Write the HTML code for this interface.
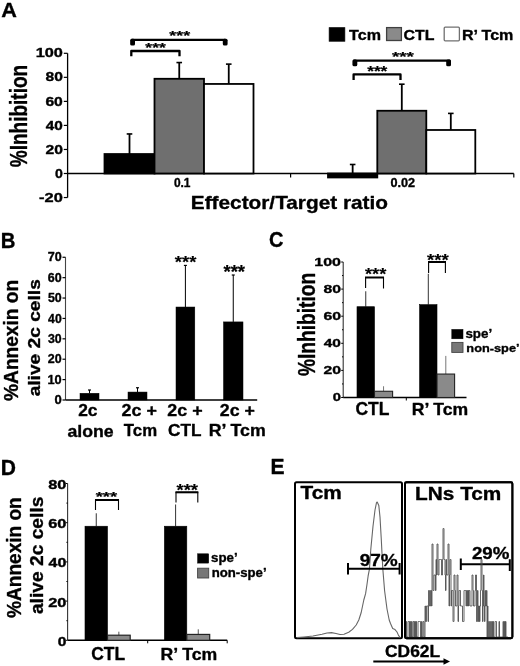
<!DOCTYPE html>
<html><head><meta charset="utf-8"><style>
html,body{margin:0;padding:0;background:#fff;width:520px;height:666px;overflow:hidden}
svg{display:block;will-change:transform} text{stroke:#000;stroke-width:0.35px;stroke-linejoin:round}
</style></head><body>
<svg width="520" height="666" viewBox="0 0 520 666" font-family="Liberation Sans" font-weight="bold" stroke-width="0" >
<rect width="520" height="666" fill="#fff"/>
<text x="1.16" y="16.80" font-size="21.09" textLength="15.63" lengthAdjust="spacingAndGlyphs">A</text>
<line x1="67.6" y1="53.30000000000001" x2="67.6" y2="197.54" stroke="#000" stroke-width="1.3"/>
<line x1="63.8" y1="53.30000000000001" x2="67.6" y2="53.30000000000001" stroke="#000" stroke-width="1.2"/>
<text x="35.68" y="57.42" font-size="12.58" textLength="27.19" lengthAdjust="spacingAndGlyphs">100</text>
<line x1="63.8" y1="77.34" x2="67.6" y2="77.34" stroke="#000" stroke-width="1.2"/>
<text x="45.49" y="81.46" font-size="12.58" textLength="17.37" lengthAdjust="spacingAndGlyphs">80</text>
<line x1="63.8" y1="101.38" x2="67.6" y2="101.38" stroke="#000" stroke-width="1.2"/>
<text x="45.41" y="105.50" font-size="12.58" textLength="17.45" lengthAdjust="spacingAndGlyphs">60</text>
<line x1="63.8" y1="125.42" x2="67.6" y2="125.42" stroke="#000" stroke-width="1.2"/>
<text x="45.77" y="129.54" font-size="12.58" textLength="17.08" lengthAdjust="spacingAndGlyphs">40</text>
<line x1="63.8" y1="149.46" x2="67.6" y2="149.46" stroke="#000" stroke-width="1.2"/>
<text x="45.45" y="153.58" font-size="12.58" textLength="17.41" lengthAdjust="spacingAndGlyphs">20</text>
<line x1="63.8" y1="173.5" x2="67.6" y2="173.5" stroke="#000" stroke-width="1.2"/>
<text x="54.94" y="177.62" font-size="12.58" textLength="7.84" lengthAdjust="spacingAndGlyphs">0</text>
<line x1="63.8" y1="197.54" x2="67.6" y2="197.54" stroke="#000" stroke-width="1.2"/>
<text x="39.14" y="201.66" font-size="12.58" textLength="23.72" lengthAdjust="spacingAndGlyphs">-20</text>
<text transform="translate(27.06,167.28) rotate(-90)" font-size="23.67" textLength="102.52" lengthAdjust="spacingAndGlyphs">%Inhibition</text>
<line x1="67.6" y1="173.5" x2="513.8" y2="173.5" stroke="#000" stroke-width="1.6"/>
<line x1="290.6" y1="173.5" x2="290.6" y2="177.5" stroke="#000" stroke-width="1.2"/>
<line x1="513.8" y1="173.5" x2="513.8" y2="177.5" stroke="#000" stroke-width="1.2"/>
<line x1="129.5" y1="154.0276" x2="129.5" y2="133.95420000000001" stroke="#000" stroke-width="1.8"/>
<line x1="126.7" y1="133.95420000000001" x2="132.3" y2="133.95420000000001" stroke="#000" stroke-width="1.6"/>
<rect x="104.5" y="154.0276" width="50.00" height="19.47" fill="#000" stroke="#000" stroke-width="1.8"/>
<line x1="179.25" y1="78.78240000000001" x2="179.25" y2="62.555400000000006" stroke="#000" stroke-width="1.8"/>
<line x1="176.45" y1="62.555400000000006" x2="182.05" y2="62.555400000000006" stroke="#000" stroke-width="1.6"/>
<rect x="154.5" y="78.78240000000001" width="49.50" height="94.72" fill="#6f6f6f" stroke="#000" stroke-width="1.8"/>
<line x1="228.75" y1="83.95100000000001" x2="228.75" y2="64.11800000000001" stroke="#000" stroke-width="1.8"/>
<line x1="225.95" y1="64.11800000000001" x2="231.55" y2="64.11800000000001" stroke="#000" stroke-width="1.6"/>
<rect x="204" y="83.95100000000001" width="49.50" height="89.55" fill="#fff" stroke="#000" stroke-width="1.8"/>
<line x1="352.65" y1="173.5" x2="352.65" y2="164.485" stroke="#000" stroke-width="1.8"/>
<line x1="349.84999999999997" y1="164.485" x2="355.45" y2="164.485" stroke="#000" stroke-width="1.6"/>
<rect x="328" y="173.5" width="49.30" height="3.97" fill="#000" stroke="#000" stroke-width="1.8"/>
<line x1="401.8" y1="110.7556" x2="401.8" y2="84.1914" stroke="#000" stroke-width="1.8"/>
<line x1="399.0" y1="84.1914" x2="404.6" y2="84.1914" stroke="#000" stroke-width="1.6"/>
<rect x="377.3" y="110.7556" width="49.00" height="62.74" fill="#6f6f6f" stroke="#000" stroke-width="1.8"/>
<line x1="450.8" y1="129.9876" x2="450.8" y2="113.4" stroke="#000" stroke-width="1.8"/>
<line x1="448.0" y1="113.4" x2="453.6" y2="113.4" stroke="#000" stroke-width="1.6"/>
<rect x="426.3" y="129.9876" width="49.00" height="43.51" fill="#fff" stroke="#000" stroke-width="1.8"/>
<path d="M131.3,56.3 V51 H179.5 V56.3" fill="none" stroke="#000" stroke-width="2.3" stroke-linejoin="round"/>
<path d="M132,45 V39.8 H225 V45" fill="none" stroke="#000" stroke-width="2.3" stroke-linejoin="round"/>
<rect x="130.2" y="38.7" width="4.8" height="6.9" rx="1.6" fill="#000"/>
<rect x="222.8" y="38.7" width="4.8" height="6.9" rx="1.6" fill="#000"/>
<path d="M353.6,80 V74.4 H400.5 V80" fill="none" stroke="#000" stroke-width="2.3" stroke-linejoin="round"/>
<path d="M354,65 V60.6 H449.5 V65" fill="none" stroke="#000" stroke-width="2.3" stroke-linejoin="round"/>
<rect x="352.5" y="59.4" width="4.8" height="6.9" rx="1.6" fill="#000"/>
<rect x="446.2" y="59.4" width="4.8" height="6.9" rx="1.6" fill="#000"/>
<text x="145.36" y="51.87" font-size="12.62" textLength="20.49" lengthAdjust="spacingAndGlyphs" style="stroke-width:0.2px">***</text>
<text x="169.36" y="40.16" font-size="12.89" textLength="20.79" lengthAdjust="spacingAndGlyphs" style="stroke-width:0.2px">***</text>
<text x="367.16" y="75.80" font-size="13.96" textLength="20.19" lengthAdjust="spacingAndGlyphs" style="stroke-width:0.2px">***</text>
<text x="391.95" y="61.44" font-size="13.15" textLength="21.89" lengthAdjust="spacingAndGlyphs" style="stroke-width:0.2px">***</text>
<rect x="329.2" y="27.7" width="15.60" height="13.50" fill="#000" stroke="#000" stroke-width="0.8"/>
<text x="349.14" y="40.05" font-size="15.20" textLength="31.86" lengthAdjust="spacingAndGlyphs">Tcm</text>
<rect x="386.6" y="27.6" width="14.80" height="12.90" fill="#8a8a8a" stroke="#404040" stroke-width="1.3"/>
<text x="403.46" y="40.05" font-size="14.98" textLength="30.94" lengthAdjust="spacingAndGlyphs">CTL</text>
<rect x="444.2" y="27.2" width="15.2" height="13.6" rx="1" fill="#fff" stroke="#707070" stroke-width="1.3"/>
<text x="461.92" y="40.05" font-size="15.20" textLength="51.48" lengthAdjust="spacingAndGlyphs">R&#8217; Tcm</text>
<text x="173.92" y="187.38" font-size="11.87" textLength="16.61" lengthAdjust="spacingAndGlyphs">0.1</text>
<text x="390.49" y="186.68" font-size="12.16" textLength="24.63" lengthAdjust="spacingAndGlyphs">0.02</text>
<text x="190.80" y="209.04" font-size="19.09" textLength="197.20" lengthAdjust="spacingAndGlyphs">Effector/Target ratio</text>
<text x="0.63" y="247.60" font-size="21.53" textLength="14.68" lengthAdjust="spacingAndGlyphs">B</text>
<line x1="65.5" y1="257.27" x2="65.5" y2="400.0" stroke="#444" stroke-width="1.1"/>
<line x1="65.5" y1="400.0" x2="257.2" y2="400.0" stroke="#000" stroke-width="1.5"/>
<line x1="62.5" y1="400.0" x2="65.5" y2="400.0" stroke="#000" stroke-width="1.2"/>
<text x="54.48" y="404.08" font-size="12.44" textLength="7.26" lengthAdjust="spacingAndGlyphs">0</text>
<line x1="62.5" y1="379.61" x2="65.5" y2="379.61" stroke="#000" stroke-width="1.2"/>
<text x="47.50" y="383.69" font-size="12.44" textLength="14.24" lengthAdjust="spacingAndGlyphs">10</text>
<line x1="62.5" y1="359.22" x2="65.5" y2="359.22" stroke="#000" stroke-width="1.2"/>
<text x="47.86" y="363.30" font-size="12.44" textLength="13.86" lengthAdjust="spacingAndGlyphs">20</text>
<line x1="62.5" y1="338.83" x2="65.5" y2="338.83" stroke="#000" stroke-width="1.2"/>
<text x="48.02" y="342.88" font-size="12.39" textLength="13.70" lengthAdjust="spacingAndGlyphs">30</text>
<line x1="62.5" y1="318.44" x2="65.5" y2="318.44" stroke="#000" stroke-width="1.2"/>
<text x="48.12" y="322.52" font-size="12.44" textLength="13.60" lengthAdjust="spacingAndGlyphs">40</text>
<line x1="62.5" y1="298.05" x2="65.5" y2="298.05" stroke="#000" stroke-width="1.2"/>
<text x="47.93" y="302.13" font-size="12.44" textLength="13.80" lengthAdjust="spacingAndGlyphs">50</text>
<line x1="62.5" y1="277.65999999999997" x2="65.5" y2="277.65999999999997" stroke="#000" stroke-width="1.2"/>
<text x="47.83" y="281.74" font-size="12.44" textLength="13.90" lengthAdjust="spacingAndGlyphs">60</text>
<line x1="62.5" y1="257.27" x2="65.5" y2="257.27" stroke="#000" stroke-width="1.2"/>
<text x="47.77" y="261.35" font-size="12.44" textLength="13.97" lengthAdjust="spacingAndGlyphs">70</text>
<line x1="89.5" y1="393.2713" x2="89.5" y2="390.0089" stroke="#000" stroke-width="1.0"/>
<line x1="88.0" y1="390.0089" x2="91.0" y2="390.0089" stroke="#000" stroke-width="1.2"/>
<rect x="80" y="393.2713" width="19.00" height="6.73" fill="#000" stroke="#000" stroke-width="0.5"/>
<line x1="137.5" y1="392.0479" x2="137.5" y2="387.766" stroke="#000" stroke-width="1.0"/>
<line x1="136.0" y1="387.766" x2="139.0" y2="387.766" stroke="#000" stroke-width="1.2"/>
<rect x="128" y="392.0479" width="19.00" height="7.95" fill="#000" stroke="#000" stroke-width="0.5"/>
<line x1="185.4" y1="307.0216" x2="185.4" y2="265.426" stroke="#000" stroke-width="1.0"/>
<line x1="183.9" y1="265.426" x2="186.9" y2="265.426" stroke="#000" stroke-width="1.2"/>
<rect x="176" y="307.0216" width="18.80" height="92.98" fill="#000" stroke="#000" stroke-width="0.5"/>
<line x1="233.25" y1="321.9063" x2="233.25" y2="275.0093" stroke="#000" stroke-width="1.0"/>
<line x1="231.75" y1="275.0093" x2="234.75" y2="275.0093" stroke="#000" stroke-width="1.2"/>
<rect x="223.5" y="321.9063" width="19.50" height="78.09" fill="#000" stroke="#000" stroke-width="0.5"/>
<text x="174.85" y="267.70" font-size="15.57" textLength="21.49" lengthAdjust="spacingAndGlyphs" style="stroke-width:0.2px">***</text>
<text x="223.45" y="277.97" font-size="17.99" textLength="21.59" lengthAdjust="spacingAndGlyphs" style="stroke-width:0.2px">***</text>
<text transform="translate(17.80,400.88) rotate(-90)" font-size="19.59" textLength="120.95" lengthAdjust="spacingAndGlyphs">%Annexin on</text>
<text transform="translate(39.73,396.37) rotate(-90)" font-size="17.01" textLength="117.17" lengthAdjust="spacingAndGlyphs">alive 2c cells</text>
<text x="78.19" y="416.13" font-size="17.39" textLength="19.33" lengthAdjust="spacingAndGlyphs">2c</text>
<text x="67.47" y="436.53" font-size="16.73" textLength="46.14" lengthAdjust="spacingAndGlyphs">alone</text>
<text x="121.57" y="415.83" font-size="17.24" textLength="35.27" lengthAdjust="spacingAndGlyphs">2c +</text>
<text x="123.83" y="436.43" font-size="17.06" textLength="33.31" lengthAdjust="spacingAndGlyphs">Tcm</text>
<text x="167.37" y="415.83" font-size="17.24" textLength="35.27" lengthAdjust="spacingAndGlyphs">2c +</text>
<text x="168.11" y="436.43" font-size="16.82" textLength="33.43" lengthAdjust="spacingAndGlyphs">CTL</text>
<text x="219.88" y="415.83" font-size="17.24" textLength="35.06" lengthAdjust="spacingAndGlyphs">2c +</text>
<text x="208.80" y="436.43" font-size="17.06" textLength="56.90" lengthAdjust="spacingAndGlyphs">R&#8217; Tcm</text>
<text x="269.00" y="247.39" font-size="21.34" textLength="14.44" lengthAdjust="spacingAndGlyphs">C</text>
<line x1="343.2" y1="262.0" x2="343.2" y2="397.5" stroke="#333" stroke-width="1.1"/>
<line x1="343.2" y1="397.5" x2="466.5" y2="397.5" stroke="#000" stroke-width="1.4"/>
<line x1="406.3" y1="397.5" x2="406.3" y2="400.5" stroke="#000" stroke-width="1.0"/>
<line x1="341.2" y1="397.5" x2="343.2" y2="397.5" stroke="#000" stroke-width="1.0"/>
<line x1="342.0" y1="383.95" x2="343.2" y2="383.95" stroke="#000" stroke-width="1.0"/>
<line x1="341.2" y1="370.4" x2="343.2" y2="370.4" stroke="#000" stroke-width="1.0"/>
<line x1="342.0" y1="356.85" x2="343.2" y2="356.85" stroke="#000" stroke-width="1.0"/>
<line x1="341.2" y1="343.3" x2="343.2" y2="343.3" stroke="#000" stroke-width="1.0"/>
<line x1="342.0" y1="329.75" x2="343.2" y2="329.75" stroke="#000" stroke-width="1.0"/>
<line x1="341.2" y1="316.2" x2="343.2" y2="316.2" stroke="#000" stroke-width="1.0"/>
<line x1="342.0" y1="302.65" x2="343.2" y2="302.65" stroke="#000" stroke-width="1.0"/>
<line x1="341.2" y1="289.1" x2="343.2" y2="289.1" stroke="#000" stroke-width="1.0"/>
<line x1="342.0" y1="275.55" x2="343.2" y2="275.55" stroke="#000" stroke-width="1.0"/>
<line x1="341.2" y1="262.0" x2="343.2" y2="262.0" stroke="#000" stroke-width="1.0"/>
<text x="332.71" y="401.39" font-size="11.31" textLength="8.20" lengthAdjust="spacingAndGlyphs">0</text>
<text x="323.45" y="374.29" font-size="11.31" textLength="17.52" lengthAdjust="spacingAndGlyphs">20</text>
<text x="323.77" y="347.19" font-size="11.31" textLength="17.19" lengthAdjust="spacingAndGlyphs">40</text>
<text x="323.41" y="320.09" font-size="11.31" textLength="17.56" lengthAdjust="spacingAndGlyphs">60</text>
<text x="323.49" y="292.99" font-size="11.31" textLength="17.48" lengthAdjust="spacingAndGlyphs">80</text>
<text x="314.30" y="265.89" font-size="11.31" textLength="26.65" lengthAdjust="spacingAndGlyphs">100</text>
<text transform="translate(314.97,376.08) rotate(-90)" font-size="22.99" textLength="103.24" lengthAdjust="spacingAndGlyphs">%Inhibition</text>
<line x1="365.75" y1="306.71500000000003" x2="365.75" y2="291.26800000000003" stroke="#333" stroke-width="1.0"/>
<rect x="357" y="306.71500000000003" width="17.50" height="90.78" fill="#000" stroke="#000" stroke-width="0.6"/>
<line x1="383.55" y1="391.267" x2="383.55" y2="386.2535" stroke="#777" stroke-width="1.0"/>
<rect x="374.5" y="391.267" width="18.10" height="6.23" fill="#8a8a8a" stroke="#222" stroke-width="1.1"/>
<line x1="428.3" y1="304.6825" x2="428.3" y2="273.7885" stroke="#333" stroke-width="1.0"/>
<rect x="419.6" y="304.6825" width="17.40" height="92.82" fill="#000" stroke="#000" stroke-width="0.6"/>
<line x1="445.8" y1="374.0585" x2="445.8" y2="355.9015" stroke="#777" stroke-width="1.0"/>
<rect x="437" y="374.0585" width="17.60" height="23.44" fill="#8a8a8a" stroke="#222" stroke-width="1.1"/>
<path d="M365.6,288 V277.5 H383.5 V288.5" fill="none" stroke="#000" stroke-width="1.1"/>
<line x1="365" y1="277.5" x2="384" y2="277.5" stroke="#000" stroke-width="2.0"/>
<path d="M428.6,273 V262 H445.4 V273" fill="none" stroke="#000" stroke-width="1.1"/>
<line x1="428" y1="262" x2="446" y2="262" stroke="#000" stroke-width="2.0"/>
<text x="364.95" y="280.33" font-size="16.91" textLength="21.39" lengthAdjust="spacingAndGlyphs" style="stroke-width:0.2px">***</text>
<text x="426.95" y="266.01" font-size="17.18" textLength="21.79" lengthAdjust="spacingAndGlyphs" style="stroke-width:0.2px">***</text>
<rect x="451.8" y="329.4" width="11.20" height="9.40" fill="#000" stroke="#000" stroke-width="0.5"/>
<text x="465.43" y="337.60" font-size="12.51" textLength="26.68" lengthAdjust="spacingAndGlyphs">spe&#8217;</text>
<rect x="451.8" y="342.4" width="11.20" height="10.00" fill="#777" stroke="#444" stroke-width="0.9"/>
<text x="466.37" y="351.84" font-size="11.84" textLength="53.18" lengthAdjust="spacingAndGlyphs">non-spe&#8217;</text>
<text x="355.40" y="415.42" font-size="18.37" textLength="33.95" lengthAdjust="spacingAndGlyphs">CTL</text>
<text x="411.71" y="415.03" font-size="16.77" textLength="56.38" lengthAdjust="spacingAndGlyphs">R&#8217; Tcm</text>
<text x="0.78" y="474.50" font-size="21.24" textLength="15.21" lengthAdjust="spacingAndGlyphs">D</text>
<line x1="67.6" y1="483.49999999999994" x2="67.6" y2="640.3" stroke="#333" stroke-width="1.1"/>
<line x1="67.6" y1="640.3" x2="227.2" y2="640.3" stroke="#000" stroke-width="1.5"/>
<line x1="147.7" y1="640.3" x2="147.7" y2="643.3" stroke="#000" stroke-width="1.0"/>
<line x1="227.2" y1="640.3" x2="227.2" y2="643.3" stroke="#000" stroke-width="1.0"/>
<line x1="65.6" y1="640.3" x2="67.6" y2="640.3" stroke="#000" stroke-width="1.0"/>
<line x1="66.39999999999999" y1="620.6999999999999" x2="67.6" y2="620.6999999999999" stroke="#000" stroke-width="1.0"/>
<line x1="65.6" y1="601.0999999999999" x2="67.6" y2="601.0999999999999" stroke="#000" stroke-width="1.0"/>
<line x1="66.39999999999999" y1="581.5" x2="67.6" y2="581.5" stroke="#000" stroke-width="1.0"/>
<line x1="65.6" y1="561.9" x2="67.6" y2="561.9" stroke="#000" stroke-width="1.0"/>
<line x1="66.39999999999999" y1="542.3" x2="67.6" y2="542.3" stroke="#000" stroke-width="1.0"/>
<line x1="65.6" y1="522.6999999999999" x2="67.6" y2="522.6999999999999" stroke="#000" stroke-width="1.0"/>
<line x1="66.39999999999999" y1="503.09999999999997" x2="67.6" y2="503.09999999999997" stroke="#000" stroke-width="1.0"/>
<line x1="65.6" y1="483.49999999999994" x2="67.6" y2="483.49999999999994" stroke="#000" stroke-width="1.0"/>
<text x="57.68" y="645.78" font-size="12.16" textLength="8.66" lengthAdjust="spacingAndGlyphs">0</text>
<text x="48.23" y="606.58" font-size="12.16" textLength="18.16" lengthAdjust="spacingAndGlyphs">20</text>
<text x="48.56" y="567.38" font-size="12.16" textLength="17.82" lengthAdjust="spacingAndGlyphs">40</text>
<text x="48.19" y="528.18" font-size="12.16" textLength="18.21" lengthAdjust="spacingAndGlyphs">60</text>
<text x="48.27" y="488.98" font-size="12.16" textLength="18.12" lengthAdjust="spacingAndGlyphs">80</text>
<text transform="translate(20.50,617.88) rotate(-90)" font-size="19.86" textLength="120.64" lengthAdjust="spacingAndGlyphs">%Annexin on</text>
<text transform="translate(42.81,614.08) rotate(-90)" font-size="18.91" textLength="117.47" lengthAdjust="spacingAndGlyphs">alive 2c cells</text>
<line x1="96.25" y1="526.228" x2="96.25" y2="513.2919999999999" stroke="#333" stroke-width="1.0"/>
<rect x="85" y="526.228" width="22.50" height="114.07" fill="#000" stroke="#000" stroke-width="0.6"/>
<line x1="118.85" y1="635.204" x2="118.85" y2="631.6759999999999" stroke="#555" stroke-width="1.0"/>
<rect x="107.5" y="635.204" width="22.70" height="5.10" fill="#8a8a8a" stroke="#222" stroke-width="1.2"/>
<line x1="175.60000000000002" y1="526.228" x2="175.60000000000002" y2="504.472" stroke="#333" stroke-width="1.0"/>
<rect x="164.4" y="526.228" width="22.40" height="114.07" fill="#000" stroke="#000" stroke-width="0.6"/>
<line x1="198.25" y1="634.42" x2="198.25" y2="629.324" stroke="#555" stroke-width="1.0"/>
<rect x="186.8" y="634.42" width="22.90" height="5.88" fill="#8a8a8a" stroke="#222" stroke-width="1.2"/>
<path d="M95.5,510 V500 H118.5 V510" fill="none" stroke="#000" stroke-width="1.1"/>
<line x1="95" y1="500" x2="119" y2="500" stroke="#000" stroke-width="2.0"/>
<path d="M176,502.5 V492.3 H197.8 V502.5" fill="none" stroke="#000" stroke-width="1.1"/>
<line x1="175.5" y1="492.3" x2="198.3" y2="492.3" stroke="#000" stroke-width="2.0"/>
<text x="95.70" y="501.31" font-size="12.08" textLength="21.34" lengthAdjust="spacingAndGlyphs" style="stroke-width:0.2px">***</text>
<text x="176.45" y="495.64" font-size="16.64" textLength="21.59" lengthAdjust="spacingAndGlyphs" style="stroke-width:0.2px">***</text>
<rect x="197.6" y="553.8" width="11.10" height="9.30" fill="#000" stroke="#000" stroke-width="0.5"/>
<text x="211.14" y="562.40" font-size="12.51" textLength="26.58" lengthAdjust="spacingAndGlyphs">spe&#8217;</text>
<rect x="197.6" y="568.2" width="11.10" height="9.80" fill="#777" stroke="#444" stroke-width="0.9"/>
<text x="211.74" y="576.50" font-size="12.07" textLength="54.83" lengthAdjust="spacingAndGlyphs">non-spe&#8217;</text>
<text x="91.20" y="660.22" font-size="17.53" textLength="33.95" lengthAdjust="spacingAndGlyphs">CTL</text>
<text x="160.61" y="660.03" font-size="16.92" textLength="56.59" lengthAdjust="spacingAndGlyphs">R&#8217; Tcm</text>
<text x="270.58" y="473.80" font-size="21.82" textLength="14.05" lengthAdjust="spacingAndGlyphs">E</text>
<rect x="295" y="482.3" width="107" height="156" fill="#fff" stroke="#000" stroke-width="2" rx="1.5"/>
<rect x="405" y="482.3" width="107.4" height="156" fill="#fff" stroke="#000" stroke-width="1.9" rx="1.5"/>
<text x="300.49" y="498.72" font-size="17.92" textLength="41.20" lengthAdjust="spacingAndGlyphs">Tcm</text>
<text x="415.10" y="500.02" font-size="18.49" textLength="86.28" lengthAdjust="spacingAndGlyphs">LNs Tcm</text>
<polyline fill="none" stroke="#666" stroke-width="1.1" stroke-linejoin="round" points="297,637.6 303.8,637 313,636 322,634.2 327,633 331.5,632.6 336,633.5 340,634.5 344,634.2 348.7,632.3 352.5,629.4 356.2,625 358.8,620 361.2,612.5 363.8,600 365.6,593.7 366.9,585 368.1,576.2 369.4,569.4 370.8,549.2 373,526.2 375,510 376.5,502.6 377.2,502 378.8,505.4 380,517 381.2,537.7 382.8,568.8 384.6,590.8 387,609 389.2,620 390.5,623.5 392.7,628.5 395,629.6 397,632 398.5,635.4 400,637.3"/>
<path d="M348,563 V574.6 M348,568.8 H399.6 M399.6,563 V574.6" stroke="#000" stroke-width="2" fill="none"/>
<text x="359.73" y="566.33" font-size="17.24" textLength="38.07" lengthAdjust="spacingAndGlyphs">97%</text>
<path d="M460.8,558.5 V570 M460.8,564.2 H509.8 M509.8,559.2 V571" stroke="#000" stroke-width="2" fill="none"/>
<text x="471.95" y="558.73" font-size="16.54" textLength="37.45" lengthAdjust="spacingAndGlyphs">29%</text>
<text x="385.00" y="657.23" font-size="17.10" textLength="55.12" lengthAdjust="spacingAndGlyphs">CD62L</text>
<path d="M373.3,661.5 H445" stroke="#000" stroke-width="2.2"/>
<path d="M443.5,658.2 L450,661.5 L443.5,664.8 Z" fill="#000"/>
<path d="M405,637 V637.0 H405.50 V637.0 H406.00 V621.5 H406.50 V637.0 H407.00 V637.0 H407.50 V637.0 H408.00 V621.5 H408.50 V621.5 H409.00 V621.5 H409.50 V637.0 H410.00 V621.5 H410.50 V637.0 H411.00 V637.0 H411.50 V621.5 H412.00 V637.0 H412.50 V637.0 H413.00 V621.5 H413.50 V621.5 H414.00 V637.0 H414.50 V621.5 H415.00 V621.5 H415.50 V637.0 H416.00 V621.5 H416.50 V637.0 H417.00 V637.0 H417.50 V637.0 H418.00 V621.5 H418.50 V621.5 H419.00 V621.5 H419.50 V621.5 H420.00 V621.5 H420.50 V637.0 H421.00 V637.0 H421.50 V621.5 H422.00 V637.0 H422.50 V637.0 H423.00 V621.5 H423.50 V621.5 H424.00 V637.0 H424.50 V637.0 H425.00 V606.0 H425.50 V621.5 H426.00 V621.5 H426.50 V606.0 H427.00 V606.0 H427.50 V606.0 H428.00 V621.5 H428.50 V590.5 H429.00 V590.5 H429.50 V606.0 H430.00 V606.0 H430.50 V590.5 H431.00 V590.5 H431.50 V606.0 H432.00 V544.0 H432.50 V544.0 H433.00 V590.5 H433.50 V590.5 H434.00 V575.0 H434.50 V575.0 H435.00 V575.0 H435.50 V590.5 H436.00 V559.5 H436.50 V575.0 H437.00 V544.0 H437.50 V544.0 H438.00 V575.0 H438.50 V575.0 H439.00 V559.5 H439.50 V559.5 H440.00 V559.5 H440.50 V559.5 H441.00 V559.5 H441.50 V575.0 H442.00 V575.0 H442.50 V559.5 H443.00 V528.5 H443.50 V528.5 H444.00 V559.5 H444.50 V559.5 H445.00 V575.0 H445.50 V590.5 H446.00 V559.5 H446.50 V575.0 H447.00 V575.0 H447.50 V575.0 H448.00 V544.0 H448.50 V544.0 H449.00 V606.0 H449.50 V575.0 H450.00 V559.5 H450.50 V559.5 H451.00 V606.0 H451.50 V590.5 H452.00 V590.5 H452.50 V590.5 H453.00 V621.5 H453.50 V621.5 H454.00 V575.0 H454.50 V575.0 H455.00 V590.5 H455.50 V606.0 H456.00 V606.0 H456.50 V606.0 H457.00 V575.0 H457.50 V575.0 H458.00 V621.5 H458.50 V606.0 H459.00 V590.5 H459.50 V590.5 H460.00 V590.5 H460.50 V606.0 H461.00 V606.0 H461.50 V606.0 H462.00 V606.0 H462.50 V621.5 H463.00 V621.5 H463.50 V621.5 H464.00 V590.5 H464.50 V590.5 H465.00 V590.5 H465.50 V590.5 H466.00 V606.0 H466.50 V590.5 H467.00 V590.5 H467.50 V606.0 H468.00 V590.5 H468.50 V606.0 H469.00 V590.5 H469.50 V590.5 H470.00 V606.0 H470.50 V606.0 H471.00 V606.0 H471.50 V606.0 H472.00 V575.0 H472.50 V575.0 H473.00 V590.5 H473.50 V606.0 H474.00 V606.0 H474.50 V606.0 H475.00 V590.5 H475.50 V575.0 H476.00 V575.0 H476.50 V621.5 H477.00 V621.5 H477.50 V590.5 H478.00 V606.0 H478.50 V621.5 H479.00 V606.0 H479.50 V621.5 H480.00 V606.0 H480.50 V590.5 H481.00 V559.5 H481.50 V559.5 H482.00 V590.5 H482.50 V621.5 H483.00 V606.0 H483.50 V575.0 H484.00 V606.0 H484.50 V621.5 H485.00 V590.5 H485.50 V606.0 H486.00 V606.0 H486.50 V590.5 H487.00 V637.0 H487.50 V606.0 H488.00 V621.5 H488.50 V637.0 H489.00 V637.0 H489.50 V621.5 H490.00 V621.5 H490.50 V637.0 H491.00 V637.0 H491.50 V621.5 H492.00 V621.5 H492.50 V637.0 H493.00 V621.5 H493.50 V637.0 H494.00 V637.0 H494.50 V637.0 H495.00 V621.5 H495.50 V621.5 H496.00 V621.5 H496.50 V637.0 H497.00 V637.0 H497.50 V637.0 H498.00 V637.0 H498.50 V637.0 H499.00 V621.5 H499.50 V637.0 H500.00 V637.0 H500.50 V637.0 H501.00 V637.0 H501.50 V637.0 H502.00 V637.0 H502.50 V637.0 H503.00 V621.5 H503.50 V637.0 H504.00 V637.0 H504.50 V621.5 H505.00 V637.0 H505.50 V621.5 H506.00 V637.0 H506.50 V637.0 H507.00 V637.0 H507.50 V637.0 H508.00 V637" fill="none" stroke="#4a4a4a" stroke-width="0.85"/>
<rect x="405" y="482.3" width="107.4" height="156" fill="none" stroke="#000" stroke-width="1.9" rx="1.5"/>
</svg></body></html>
